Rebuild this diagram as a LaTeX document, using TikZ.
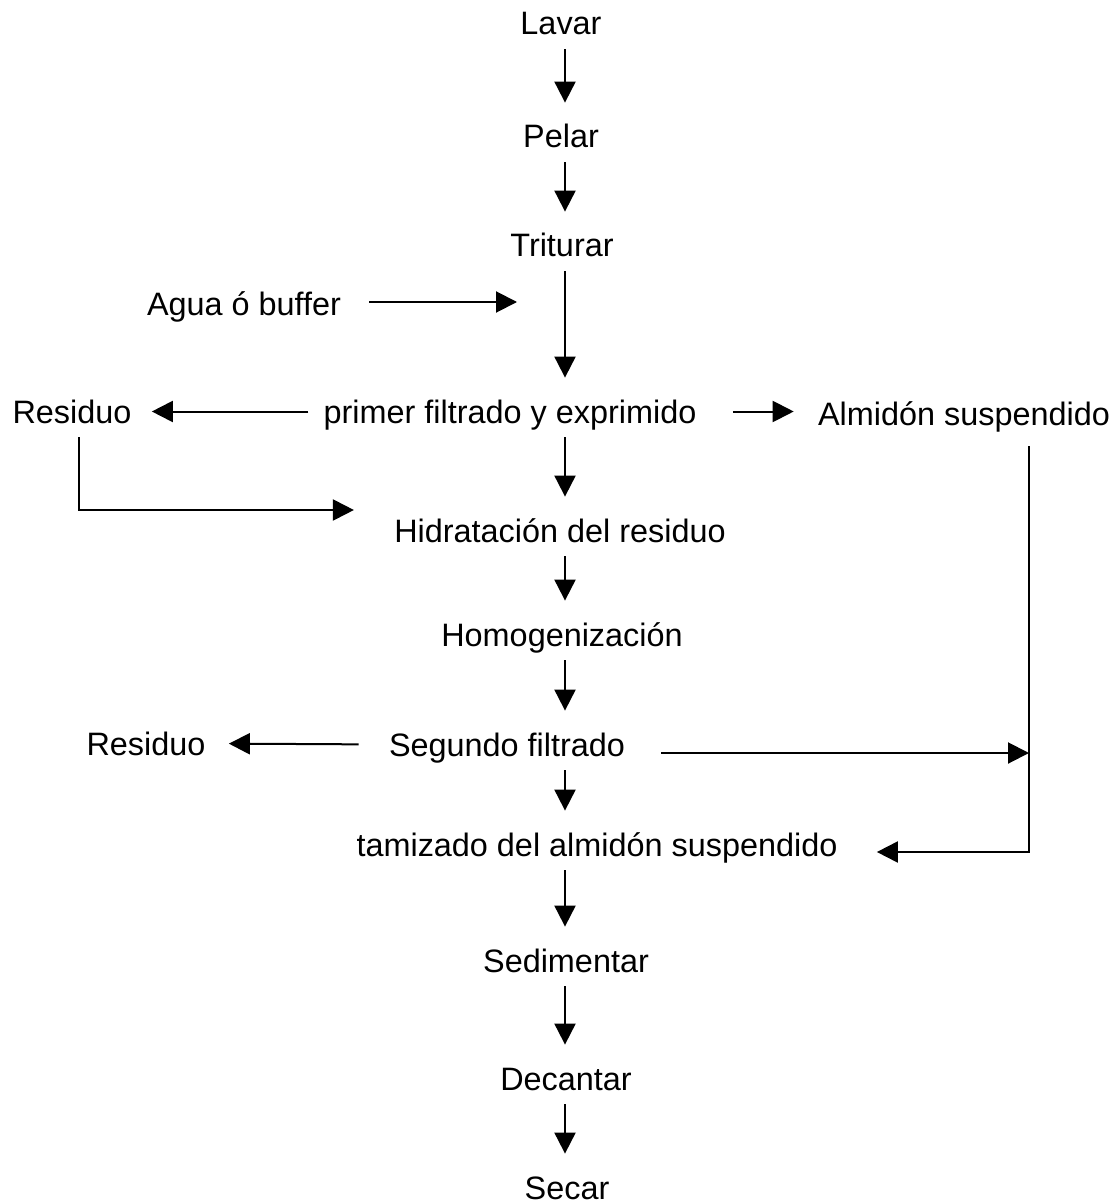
\documentclass[tikz,border=0pt]{standalone}
\usepackage{fontspec}
\setmainfont{Liberation Sans}
\usetikzlibrary{arrows.meta,calc,positioning}

\tikzset{
  stage/.style={anchor=base, inner sep=0pt, text height=11.5pt, text depth=0pt,
    font=\fontsize{16.2}{19}\selectfont},
  flow/.style={line width=1pt, -{Triangle[length=10.5pt,width=10.5pt]}},
  down/.style={flow, shorten <=7pt, shorten >=11pt},
}

\begin{document}
\begin{tikzpicture}[x=0.5pt,y=-0.5pt]
  \useasboundingbox (0,0) rectangle (1119,1203);
  % main column
  \node[stage] (lavar) at (561,35) {Lavar};
  \node[stage] (pelar) at (561,148) {Pelar};
  \node[stage] (triturar) at (562,257) {Triturar};
  \node[stage] (agua) at (244,315) {Agua ó buffer};
  \node[stage] (primer) at (510,423) {primer filtrado y exprimido};
  \node[stage] (residuoA) at (72,423) {Residuo};
  \node[stage] (almidon) at (964,425) {Almidón suspendido};
  \node[stage] (hidrat) at (560,542) {Hidratación del residuo};
  \node[stage] (homog) at (562,646) {Homogenización};
  \node[stage] (segundo) at (507,756) {Segundo filtrado};
  \node[stage] (residuoB) at (146,755) {Residuo};
  \node[stage] (tamiz) at (597,856) {tamizado del almidón suspendido};
  \node[stage] (sedim) at (566,972) {Sedimentar};
  \node[stage] (decant) at (566,1090) {Decantar};
  \node[stage] (secar) at (567,1199) {Secar};

  \coordinate (axis) at (565,0);
  \coordinate (inlet) at (517,302);
  \coordinate (bend) at (79,510);
  \coordinate (join) at (1029,753);
  \coordinate (corner) at (1029,852);

  \foreach \a/\b in {lavar/pelar,pelar/triturar,triturar/primer,primer/hidrat,
    hidrat/homog,homog/segundo,segundo/tamiz,tamiz/sedim,sedim/decant,decant/secar}
    \draw[down] (\a.south -| axis) -- (\b.north -| axis);

  % side streams
  \draw[flow, shorten <=14pt] (agua.east |- inlet) -- (inlet);
  \draw[flow, shorten <=7.5pt, shorten >=10pt] (primer.west) -- (residuoA.east);
  \draw[flow, shorten <=18pt, shorten >=12pt] (primer.east) -- (almidon.west |- primer.east);
  \draw[flow, shorten <=7pt, shorten >=20pt] (residuoA.south -| bend) -- (bend) -- (bend -| hidrat.west);
  \draw[flow, shorten <=10.5pt, shorten >=19.5pt] (almidon.south -| corner) -- (corner) -- (corner -| tamiz.east);
  \draw[flow, shorten <=18pt] (segundo.east |- join) -- (join);
  \draw[flow, shorten <=15pt, shorten >=11.5pt] (segundo.west) -- (residuoB.east);
\end{tikzpicture}
\end{document}
